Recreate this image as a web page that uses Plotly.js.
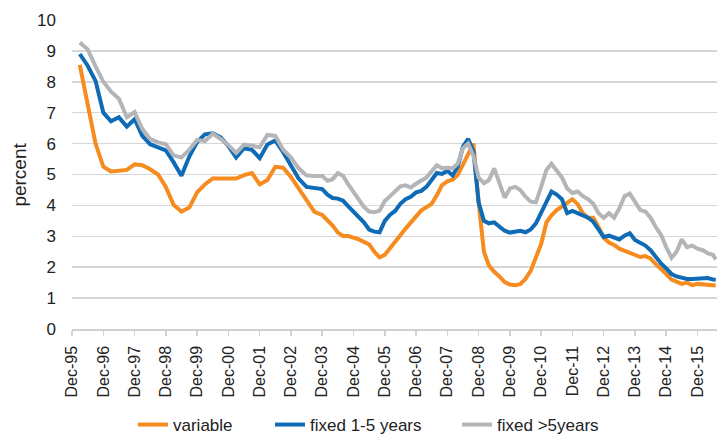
<!DOCTYPE html>
<html>
<head>
<meta charset="utf-8">
<script src="https://cdn.plot.ly/plotly-3.0.1.min.js"></script>
<style>html,body{margin:0;padding:0;background:#fff;}#chart{width:717px;height:436px;}</style>
</head>
<body>
<div id="chart"></div>
<script>
// Observation dates: quarterly 1996-2003, then every second month
const dates = [
  '1996-03','1996-06','1996-09','1996-12','1997-03','1997-06','1997-09','1997-12',
  '1998-03','1998-06','1998-09','1998-12','1999-03','1999-06','1999-09','1999-12',
  '2000-03','2000-06','2000-09','2000-12','2001-03','2001-06','2001-09','2001-12',
  '2002-03','2002-06','2002-09','2002-12','2003-03','2003-06','2003-09','2003-12',
  '2004-02','2004-04','2004-06','2004-08','2004-10','2004-12',
  '2005-02','2005-04','2005-06','2005-08','2005-10','2005-12',
  '2006-02','2006-04','2006-06','2006-08','2006-10','2006-12',
  '2007-02','2007-04','2007-06','2007-08','2007-10','2007-12',
  '2008-02','2008-04','2008-06','2008-08','2008-10','2008-12',
  '2009-02','2009-04','2009-06','2009-08','2009-10','2009-12',
  '2010-02','2010-04','2010-06','2010-08','2010-10','2010-12',
  '2011-02','2011-04','2011-06','2011-08','2011-10','2011-12',
  '2012-02','2012-04','2012-06','2012-08','2012-10','2012-12',
  '2013-02','2013-04','2013-06','2013-08','2013-10','2013-12',
  '2014-02','2014-04','2014-06','2014-08','2014-10','2014-12',
  '2015-02','2015-04','2015-06','2015-08','2015-10','2015-12',
  '2016-02','2016-04','2016-06','2016-07'
];

const variable = [
  8.55,7.2,6.0,5.25,5.1,5.12,5.15,5.33,
  5.3,5.17,5.0,4.6,4.02,3.8,3.93,4.42,
  4.68,4.87,4.88,4.87,4.87,4.98,5.05,4.68,
  4.82,5.25,5.22,4.92,4.55,4.2,3.79,3.69,
  3.52,3.35,3.12,3.01,3.01,2.96,
  2.9,2.82,2.74,2.5,2.32,2.4,
  2.6,2.8,3.03,3.25,3.45,3.67,
  3.84,3.94,4.05,4.33,4.66,4.78,
  4.83,4.98,5.3,5.65,6.0,4.1,
  2.5,2.05,1.85,1.7,1.52,1.44,
  1.42,1.45,1.62,1.88,2.28,2.75,
  3.45,3.68,3.85,3.98,4.1,4.2,
  4.04,3.75,3.6,3.6,3.3,2.95,
  2.8,2.72,2.6,2.53,2.48,2.4,
  2.33,2.36,2.28,2.1,1.95,1.78,
  1.6,1.52,1.46,1.5,1.42,1.46,
  1.45,1.44,1.42,1.41
];

const fixed1to5 = [
  8.9,8.52,8.03,7.0,6.72,6.85,6.55,6.79,
  6.25,5.98,5.88,5.78,5.4,4.96,5.58,6.05,
  6.3,6.33,6.2,5.92,5.55,5.85,5.8,5.53,
  5.97,6.1,5.72,5.26,4.87,4.6,4.58,4.53,
  4.35,4.24,4.22,4.15,3.97,3.8,
  3.63,3.45,3.22,3.15,3.13,3.5,
  3.7,3.82,4.05,4.2,4.28,4.42,
  4.47,4.6,4.82,5.05,5.02,5.12,
  4.97,5.25,5.9,6.15,5.75,4.1,
  3.5,3.42,3.45,3.3,3.18,3.12,
  3.15,3.18,3.13,3.22,3.42,3.78,
  4.15,4.45,4.35,4.2,3.75,3.82,
  3.75,3.67,3.6,3.47,3.2,2.98,
  3.02,2.95,2.9,3.02,3.1,2.88,
  2.78,2.7,2.55,2.32,2.12,1.96,
  1.78,1.7,1.65,1.62,1.62,1.62,
  1.63,1.65,1.6,1.59
];

const fixedOver5 = [
  9.27,9.05,8.5,8.0,7.68,7.45,6.85,7.02,
  6.47,6.15,6.04,5.98,5.62,5.55,5.8,6.12,
  6.08,6.32,6.15,5.95,5.7,5.97,5.93,5.88,
  6.28,6.25,5.8,5.55,5.2,4.97,4.95,4.95,
  4.8,4.85,5.05,4.95,4.68,4.42,
  4.2,3.95,3.8,3.78,3.83,4.14,
  4.3,4.45,4.62,4.65,4.58,4.7,
  4.8,4.9,5.1,5.3,5.2,5.22,
  5.2,5.35,5.85,6.0,5.6,4.9,
  4.72,4.82,5.2,4.75,4.25,4.55,
  4.6,4.5,4.28,4.12,4.1,4.6,
  5.15,5.35,5.1,4.9,4.55,4.4,
  4.45,4.3,4.2,4.05,3.75,3.6,
  3.75,3.6,3.9,4.3,4.38,4.12,
  3.85,3.8,3.6,3.3,3.05,2.65,
  2.3,2.5,2.9,2.65,2.7,2.6,
  2.55,2.45,2.4,2.25
];

const seriesNames = ['variable', 'fixed 1-5 years', 'fixed >5years'];
const seriesColors = ['#F68B1F', '#0F6BB5', '#B3B5B8'];
const seriesValues = [variable, fixed1to5, fixedOver5];
const legendIds = ['legend', 'legend2', 'legend3'];
const legendTextStart = [173, 310, 497];   // where each legend label begins (px)

const FONT = '"Liberation Sans", Arial, sans-serif';
const traces = seriesValues.map((vals, i) => ({
  type: 'scatter', mode: 'lines', x: dates, y: vals, name: seriesNames[i],
  legend: legendIds[i],
  line: {color: seriesColors[i], width: 4}, hoverinfo: 'skip'
}));

const W = 717, H = 436;
const layout = {
  width: W, height: H,
  margin: {l: 72, r: 0, t: 19.5, b: 106.7, pad: 0},
  paper_bgcolor: '#fff', plot_bgcolor: '#fff',
  showlegend: true,
  font: {family: FONT, color: '#222'},
  xaxis: {
    type: 'date', range: ['1995-12-01', '2016-07-16'],
    tick0: '1995-12-01', dtick: 'M12', tickformat: '%b-%y', tickangle: -90,
    tickfont: {size: 16, family: FONT, color: '#222'},
    showgrid: false, zeroline: false,
    showline: true, linecolor: '#d0d0d0', linewidth: 1.5,
    ticks: 'outside', ticklen: 5, tickcolor: '#d0d0d0', tickwidth: 1.5,
    ticklabelstandoff: 4, automargin: false, fixedrange: true
  },
  yaxis: {
    range: [0, 10], dtick: 1, tick0: 0,
    tickfont: {size: 17, family: FONT, color: '#222'},
    showgrid: true, gridcolor: '#d6d6d6', gridwidth: 1.5,
    zeroline: false, showline: false, ticks: '',
    ticklabelstandoff: 15, automargin: false, fixedrange: true
  },
  annotations: [{
    text: 'percent', xref: 'paper', yref: 'paper', x: -0.082, y: 0.5,
    xanchor: 'center', yanchor: 'middle', textangle: -90, showarrow: false,
    font: {size: 19, family: FONT, color: '#222'}
  }]
};
legendIds.forEach((id, i) => {
  layout[id] = {
    orientation: 'h', xref: 'container', yref: 'container',
    x: (legendTextStart[i] - 40) / W, xanchor: 'left',
    y: (H - 425) / H, yanchor: 'middle',
    font: {size: 17, family: FONT, color: '#222'},
    bgcolor: 'rgba(0,0,0,0)', borderwidth: 0
  };
});

Plotly.newPlot('chart', traces, layout, {staticPlot: true, displayModeBar: false});
</script>
</body>
</html>
